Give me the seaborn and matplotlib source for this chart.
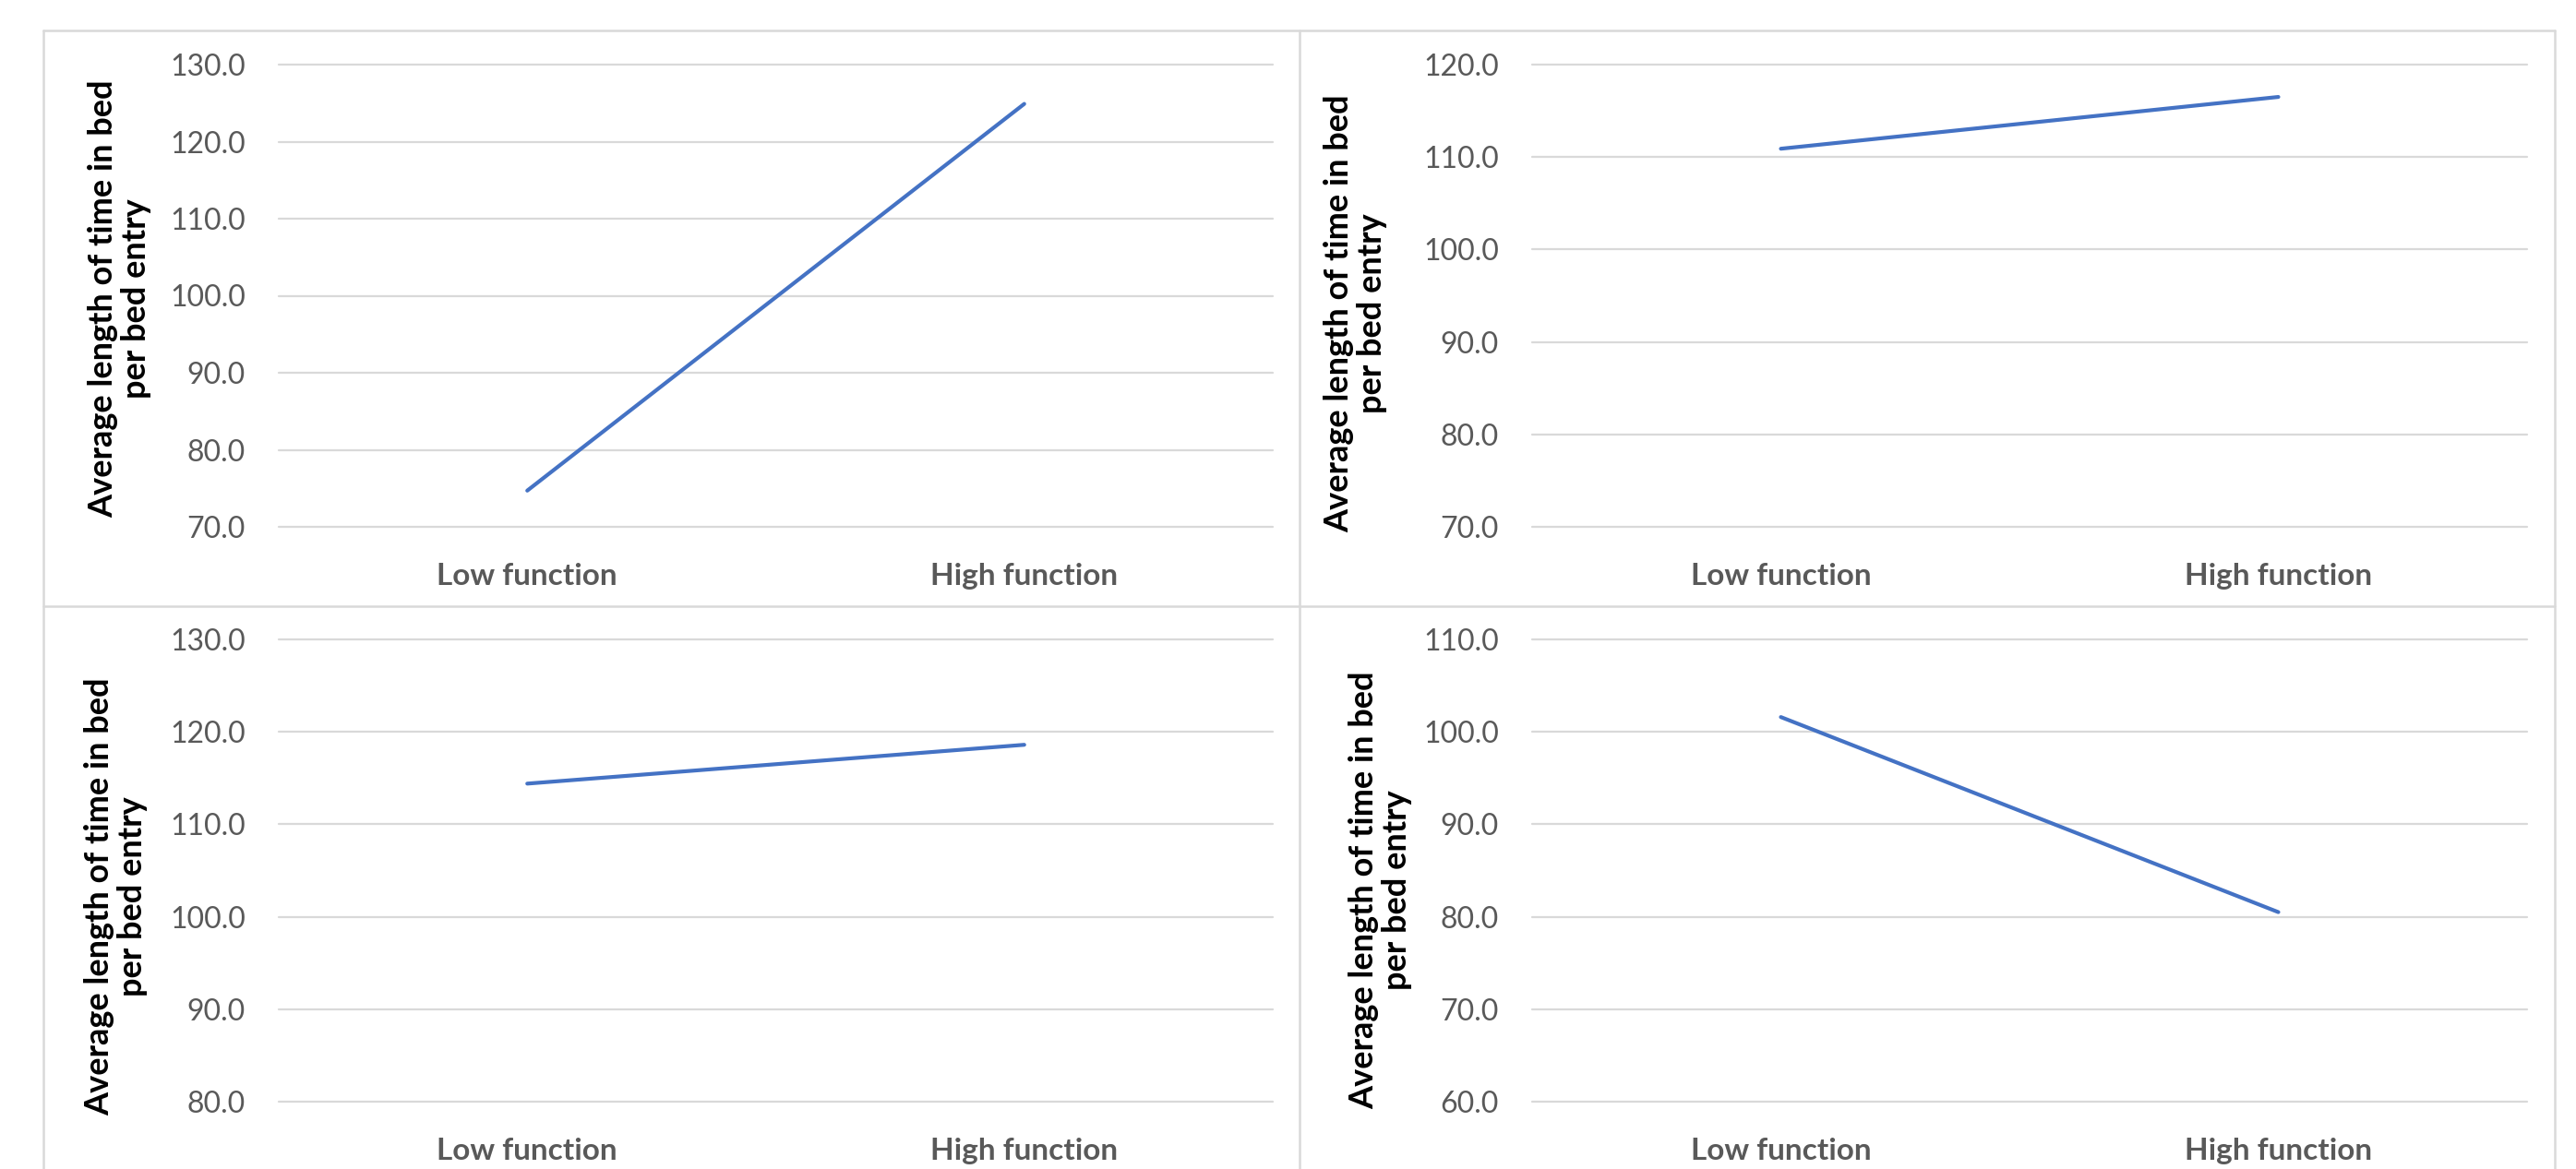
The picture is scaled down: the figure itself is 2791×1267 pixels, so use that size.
import matplotlib
matplotlib.use("Agg")
import matplotlib.pyplot as plt
from matplotlib.lines import Line2D
from matplotlib.ticker import FormatStrFormatter, MultipleLocator
import seaborn as sns

sns.set_theme(style="white")
plt.rcParams["font.family"] = ["Lato", "DejaVu Sans"]

# ---- data ----
categories = ["Low function", "High function"]
values_a = [74.7, 124.9]
values_b = [110.9, 116.5]
values_c = [114.4, 118.6]
values_d = [101.6, 80.5]
ylims = [(70, 130), (70, 120), (80, 130), (60, 110)]
ylabel_text = "Average length of time in bed\nper bed entry"

W, H = 2791, 1267
fig = plt.figure(figsize=(W / 100, H / 100), dpi=100)
fig.patch.set_facecolor("white")


def px_rect(x0, y0, x1, y1):
    return [x0 / W, 1 - y1 / H, (x1 - x0) / W, (y1 - y0) / H]


panels = [
    # series, plot box (px), ylabel centre (px)
    (values_a, (302, 70, 1379, 571), (130, 324)),
    (values_b, (1660, 70, 2738, 571), (1469, 340)),
    (values_c, (302, 693, 1379, 1194), (126, 972)),
    (values_d, (1660, 693, 2738, 1194), (1496, 965)),
]

line_color = "#4472C4"
grid_color = "#D9D9D9"
text_gray = "#595959"

for (vals, box, lab), ylim in zip(panels, ylims):
    ax = fig.add_axes(px_rect(*box))
    sns.lineplot(x=categories, y=vals, ax=ax, color=line_color,
                 linewidth=3.0, sort=False)
    ax.set_xlim(-0.5, 1.5)
    ax.set_ylim(*ylim)
    ax.yaxis.set_major_locator(MultipleLocator(10))
    ax.yaxis.set_major_formatter(FormatStrFormatter("%.1f"))
    ax.grid(axis="y", color=grid_color, linewidth=1.6)
    ax.grid(axis="x", visible=False)
    for gl in ax.get_ygridlines():
        gl.set_clip_on(False)
    for s in ax.spines.values():
        s.set_visible(False)
    ax.tick_params(axis="both", length=0)
    ax.tick_params(axis="y", labelsize=23, labelcolor=text_gray, pad=26)
    ax.tick_params(axis="x", labelsize=24, labelcolor=text_gray, pad=28)
    for t in ax.get_xticklabels():
        t.set_fontweight("bold")
    ax.set_xlabel("")
    ax.set_ylabel("")
    ax.set_facecolor("none")
    fig.text(lab[0] / W, 1 - lab[1] / H, ylabel_text, rotation=90,
             ha="center", va="center", multialignment="center",
             fontsize=26, fontweight="bold", color="black",
             linespacing=1.1)

# chart-area borders
border_kw = dict(color=grid_color, linewidth=1.8, transform=fig.transFigure)
for (x0, y0, x1, y1) in [
    (47, 33, 2768, 33),
    (47, 657, 2768, 657),
    (47, 33, 47, 1267),
    (1408, 33, 1408, 1267),
    (2768, 33, 2768, 1267),
]:
    fig.add_artist(Line2D([x0 / W, x1 / W], [1 - y0 / H, 1 - y1 / H], **border_kw))

fig.savefig("out.png", dpi=100, facecolor="white")
